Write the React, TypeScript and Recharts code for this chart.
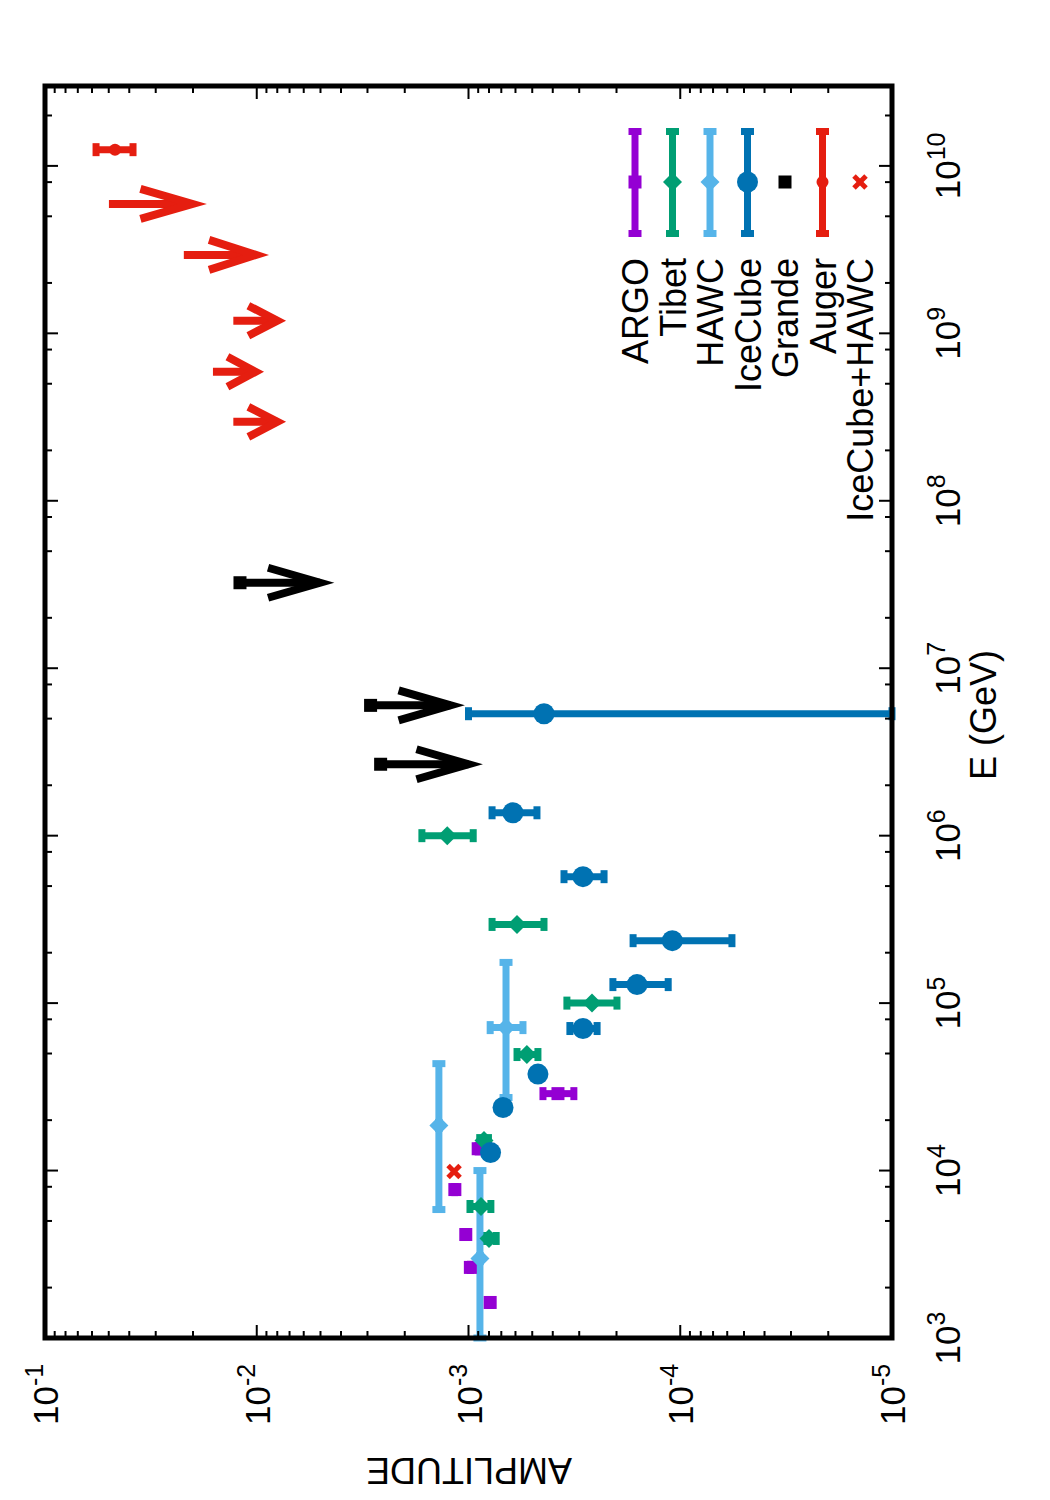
import React from "react";
import { ScatterChart, Scatter, XAxis, YAxis, ErrorBar, ReferenceArea, ReferenceLine, Legend } from "recharts";

// ---- measurements: energy E (GeV) and dipole amplitude, bar ends where drawn ----
const ARGO_E = [1.63e3, 2.64e3, 4.15e3, 7.7e3, 1.35e4, 2.88e4];
const ARGO_AMP = [7.9e-4, 9.8e-4, 1.03e-3, 1.16e-3, 9.0e-4, 3.78e-4];
const ARGO_AMP_LO = [null, null, null, null, null, 3.18e-4];
const ARGO_AMP_HI = [null, null, null, null, null, 4.45e-4];

const TIBET_E = [3.93e3, 6.1e3, 1.51e4, 4.93e4, 1.0e5, 2.95e5, 1.0e6];
const TIBET_AMP = [8.0e-4, 8.73e-4, 8.45e-4, 5.3e-4, 2.61e-4, 5.9e-4, 1.26e-3];
const TIBET_AMP_LO = [7.4e-4, 7.84e-4, 8.05e-4, 4.7e-4, 1.99e-4, 4.4e-4, 9.5e-4];
const TIBET_AMP_HI = [8.55e-4, 9.84e-4, 8.85e-4, 5.9e-4, 3.43e-4, 7.74e-4, 1.66e-3];

const HAWC_E = [2.98e3, 1.86e4, 7.14e4];
const HAWC_AMP = [8.83e-4, 1.38e-3, 6.65e-4];
const HAWC_AMP_LO = [null, null, 5.53e-4];
const HAWC_AMP_HI = [null, null, 7.9e-4];
const HAWC_E_LO = [1.0e3, 5.85e3, 2.73e4];
const HAWC_E_HI = [1.0e4, 4.35e4, 1.75e5];

const ICECUBE_E = [1.28e4, 2.38e4, 3.77e4, 7.05e4, 1.29e5, 2.36e5, 5.69e5, 1.37e6, 5.35e6];
const ICECUBE_AMP = [7.87e-4, 6.87e-4, 4.7e-4, 2.88e-4, 1.6e-4, 1.09e-4, 2.88e-4, 6.17e-4, 4.4e-4];
const ICECUBE_AMP_LO = [null, null, null, 2.47e-4, 1.14e-4, 5.7e-5, 2.29e-4, 4.75e-4, 1.0e-5];
const ICECUBE_AMP_HI = [null, null, null, 3.32e-4, 2.08e-4, 1.67e-4, 3.54e-4, 7.74e-4, 1.0e-3];

// upper limits: value at the square, arrow runs down to *_TO
const GRANDE_E = [2.67e6, 6.0e6, 3.24e7];
const GRANDE_AMP = [2.6e-3, 2.9e-3, 1.2e-2];
const GRANDE_TO = [8.55e-4, 1.04e-3, 4.3e-3];

const AUGER_E = [1.25e10];
const AUGER_AMP = [4.67e-2];
const AUGER_AMP_LO = [3.84e-2];
const AUGER_AMP_HI = [5.74e-2];
const AUGER_LIM_E = [2.96e8, 5.89e8, 1.19e9, 2.94e9, 5.93e9];
const AUGER_LIM_AMP = [1.29e-2, 1.61e-2, 1.29e-2, 2.21e-2, 4.99e-2];
const AUGER_LIM_TO = [7.27e-3, 9.24e-3, 7.27e-3, 8.75e-3, 1.72e-2];

const ICHAWC_E = [9.86e3];
const ICHAWC_AMP = [1.17e-3];

const AMP_DECADES = [-5, -4, -3, -2];
const E_DECADES = [3, 4, 5, 6, 7, 8, 9, 10];
const E_MINOR = [1, 2, 5, 8];

const AMP_DOMAIN = [1e-5, 1e-1];
const E_DOMAIN = [1e3, 3e10];

// ---- layout ----
const W = 1050;
const H = 1500;
const MARGIN = { top: 86, right: 98, bottom: 102, left: 45 };
const X_AXIS_H = 60;
const Y_AXIS_W = 60;
const PLOT_L = MARGIN.left;
const PLOT_R = W - MARGIN.right - Y_AXIS_W;
const PLOT_T = MARGIN.top;
const PLOT_B = H - MARGIN.bottom - X_AXIS_H;
const FONT = "'Liberation Sans', Arial, Helvetica, sans-serif";

const COLORS = {
  argo: "#9400d3",
  tibet: "#009e73",
  hawc: "#56b4e9",
  icecube: "#0072b2",
  grande: "#000000",
  auger: "#e51e10",
};

const ampTicks: number[] = [];
AMP_DECADES.forEach((d) => {
  for (let m = 1; m <= 9; m++) ampTicks.push(m * Math.pow(10, d));
});
ampTicks.push(AMP_DOMAIN[1]);

const eTicks: number[] = [];
E_DECADES.forEach((d) => E_MINOR.forEach((m) => eTicks.push(m * Math.pow(10, d))));
const E_TICKS = eTicks.filter((v) => v <= E_DOMAIN[1]);

const isDecade = (v: number) => Math.abs(Math.log10(v) - Math.round(Math.log10(v))) < 1e-6;

const errPair = (v: number, lo: number | null, hi: number | null) => [lo == null ? 0 : v - lo, hi == null ? 0 : hi - v];

const rows = (es: number[], amps: number[], lo?: (number | null)[], hi?: (number | null)[]) =>
  es.map((E, i) => ({ E, A: amps[i], errA: errPair(amps[i], lo ? lo[i] : null, hi ? hi[i] : null) }));

const argoData = rows(ARGO_E, ARGO_AMP, ARGO_AMP_LO, ARGO_AMP_HI);
const tibetData = rows(TIBET_E, TIBET_AMP, TIBET_AMP_LO, TIBET_AMP_HI);
const hawcData = rows(HAWC_E, HAWC_AMP, HAWC_AMP_LO, HAWC_AMP_HI).map((r, i) => ({
  ...r,
  errE: [r.E - HAWC_E_LO[i], HAWC_E_HI[i] - r.E],
}));
const icecubeData = rows(ICECUBE_E, ICECUBE_AMP, ICECUBE_AMP_LO, ICECUBE_AMP_HI);
const grandeData = rows(GRANDE_E, GRANDE_AMP);
const augerData = rows(AUGER_E, AUGER_AMP, AUGER_AMP_LO, AUGER_AMP_HI);
const ichawcData = rows(ICHAWC_E, ICHAWC_AMP);

const arrows = [
  ...GRANDE_E.map((E, i) => ({ E, from: GRANDE_AMP[i], to: GRANDE_TO[i], color: COLORS.grande })),
  ...AUGER_LIM_E.map((E, i) => ({ E, from: AUGER_LIM_AMP[i], to: AUGER_LIM_TO[i], color: COLORS.auger })),
];

// ---- point symbols ----
type Kind = "square" | "diamond" | "circle" | "dot" | "cross";

const Marker = ({ kind, cx, cy, color }: { kind: Kind; cx: number; cy: number; color: string }) => {
  if (kind === "square") return <rect x={cx - 6.5} y={cy - 6.5} width={13} height={13} fill={color} />;
  if (kind === "diamond")
    return <polygon points={`${cx},${cy - 9.5} ${cx + 9.5},${cy} ${cx},${cy + 9.5} ${cx - 9.5},${cy}`} fill={color} />;
  if (kind === "circle") return <circle cx={cx} cy={cy} r={10.5} fill={color} />;
  if (kind === "dot") return <circle cx={cx} cy={cy} r={6} fill={color} />;
  return (
    <g stroke={color} strokeWidth={5}>
      <line x1={cx - 6} y1={cy - 6} x2={cx + 6} y2={cy + 6} />
      <line x1={cx - 6} y1={cy + 6} x2={cx + 6} y2={cy - 6} />
    </g>
  );
};

const shapeOf = (kind: Kind, color: string) => (p: any) => <Marker kind={kind} cx={p.cx} cy={p.cy} color={color} />;

// upper-limit arrow, drawn from the line ends that ReferenceLine hands over
const arrowShape = (color: string) => (p: any) => {
  const { x1, y1, x2, y2 } = p;
  const len = Math.hypot(x2 - x1, y2 - y1);
  if (!len) return <g />;
  const ux = (x2 - x1) / len;
  const uy = (y2 - y1) / len;
  const head = Math.min(52, 0.55 * len);
  const hw = 15;
  const sw = 8;
  const back = sw / 2 / Math.sin(Math.atan(hw / head));
  const tx = x2 - ux * back;
  const ty = y2 - uy * back;
  const bx = tx - ux * head;
  const by = ty - uy * head;
  return (
    <g>
      <line x1={x1} y1={y1} x2={tx} y2={ty} stroke={color} strokeWidth={sw} />
      <polyline
        points={`${bx - uy * hw},${by + ux * hw} ${tx},${ty} ${bx + uy * hw},${by - ux * hw}`}
        fill="none"
        stroke={color}
        strokeWidth={sw}
        strokeLinejoin="miter"
        strokeMiterlimit={10}
      />
    </g>
  );
};

const Sup = ({ exp }: { exp: number }) => (
  <tspan fontSize={25} dy={-15}>
    {exp}
  </tspan>
);

const AmpTick = (props: any) => {
  const { x, payload } = props;
  const v = payload.value;
  const major = isDecade(v);
  const len = major ? 13 : 7;
  const lx = x + 13;
  const ly = 1425;
  return (
    <g>
      <line x1={x} y1={PLOT_B} x2={x} y2={PLOT_B - len} stroke="#000" strokeWidth={2} />
      <line x1={x} y1={PLOT_T} x2={x} y2={PLOT_T + len} stroke="#000" strokeWidth={2} />
      {major && (
        <text x={lx} y={ly} transform={`rotate(-90 ${lx} ${ly})`} fontSize={35} fontFamily={FONT} fill="#000">
          10
          <Sup exp={Math.round(Math.log10(v))} />
        </text>
      )}
    </g>
  );
};

const EnergyTick = (props: any) => {
  const { y, payload } = props;
  const v = payload.value;
  const major = isDecade(v);
  const len = major ? 13 : 7;
  const lx = 960;
  return (
    <g>
      <line x1={PLOT_L} y1={y} x2={PLOT_L + len} y2={y} stroke="#000" strokeWidth={2} />
      <line x1={PLOT_R} y1={y} x2={PLOT_R - len} y2={y} stroke="#000" strokeWidth={2} />
      {major && (
        <text
          x={lx}
          y={y}
          transform={`rotate(-90 ${lx} ${y})`}
          textAnchor="middle"
          fontSize={35}
          fontFamily={FONT}
          fill="#000"
        >
          10
          <Sup exp={Math.round(Math.log10(v))} />
        </text>
      )}
    </g>
  );
};

// ---- key ----
const KEY: { name: string; color: string; kind: Kind; bar: boolean }[] = [
  { name: "ARGO", color: COLORS.argo, kind: "square", bar: true },
  { name: "Tibet", color: COLORS.tibet, kind: "diamond", bar: true },
  { name: "HAWC", color: COLORS.hawc, kind: "diamond", bar: true },
  { name: "IceCube", color: COLORS.icecube, kind: "circle", bar: true },
  { name: "Grande", color: COLORS.grande, kind: "square", bar: false },
  { name: "Auger", color: COLORS.auger, kind: "dot", bar: true },
  { name: "IceCube+HAWC", color: COLORS.auger, kind: "cross", bar: false },
];

const renderKey = () => (
  <svg width={300} height={450} style={{ overflow: "visible" }}>
    {KEY.map((k, i) => {
      const x = 35 + i * 37.5;
      return (
        <g key={k.name}>
          {k.bar && (
            <g stroke={k.color} strokeWidth={7}>
              <line x1={x} y1={28} x2={x} y2={137} />
              <line x1={x - 6.5} y1={31.5} x2={x + 6.5} y2={31.5} />
              <line x1={x - 6.5} y1={133.5} x2={x + 6.5} y2={133.5} />
            </g>
          )}
          <Marker kind={k.kind} cx={x} cy={82} color={k.color} />
          <text
            x={x + 13}
            y={158}
            transform={`rotate(-90 ${x + 13} 158)`}
            textAnchor="end"
            fontSize={36}
            fontFamily={FONT}
            fill="#000"
          >
            {k.name}
          </text>
        </g>
      );
    })}
  </svg>
);

const barProps = { width: 6.5, strokeWidth: 7 };

export default function App() {
  return (
    <div style={{ position: "absolute", left: 0, top: 0, background: "#fff" }}>
      <ScatterChart width={W} height={H} margin={MARGIN}>
        <XAxis
          dataKey="A"
          type="number"
          scale="log"
          domain={AMP_DOMAIN}
          allowDataOverflow
          reversed
          ticks={ampTicks}
          interval={0}
          tick={<AmpTick />}
          tickLine={false}
          axisLine={false}
          height={X_AXIS_H}
        />
        <YAxis
          dataKey="E"
          type="number"
          scale="log"
          domain={E_DOMAIN}
          allowDataOverflow
          orientation="right"
          ticks={E_TICKS}
          interval={0}
          tick={<EnergyTick />}
          tickLine={false}
          axisLine={false}
          width={Y_AXIS_W}
        />
        <Legend
          content={renderKey}
          layout="vertical"
          align="center"
          verticalAlign="middle"
          wrapperStyle={{ left: 600, top: 100, width: 300, height: 450 }}
        />

        <Scatter name="ARGO" data={argoData} shape={shapeOf("square", COLORS.argo)} isAnimationActive={false}>
          <ErrorBar dataKey="errA" direction="x" stroke={COLORS.argo} {...barProps} />
        </Scatter>
        <Scatter name="Tibet" data={tibetData} shape={shapeOf("diamond", COLORS.tibet)} isAnimationActive={false}>
          <ErrorBar dataKey="errA" direction="x" stroke={COLORS.tibet} {...barProps} />
        </Scatter>
        <Scatter name="HAWC" data={hawcData} shape={shapeOf("diamond", COLORS.hawc)} isAnimationActive={false}>
          <ErrorBar dataKey="errE" direction="y" stroke={COLORS.hawc} {...barProps} />
          <ErrorBar dataKey="errA" direction="x" stroke={COLORS.hawc} {...barProps} />
        </Scatter>
        <Scatter name="IceCube" data={icecubeData} shape={shapeOf("circle", COLORS.icecube)} isAnimationActive={false}>
          <ErrorBar dataKey="errA" direction="x" stroke={COLORS.icecube} {...barProps} />
        </Scatter>
        <Scatter name="Grande" data={grandeData} shape={shapeOf("square", COLORS.grande)} isAnimationActive={false} />
        <Scatter name="Auger" data={augerData} shape={shapeOf("dot", COLORS.auger)} isAnimationActive={false}>
          <ErrorBar dataKey="errA" direction="x" stroke={COLORS.auger} {...barProps} />
        </Scatter>
        <Scatter name="IceCube+HAWC" data={ichawcData} shape={shapeOf("cross", COLORS.auger)} isAnimationActive={false} />

        {arrows.map((a, i) => (
          <ReferenceLine
            key={`lim-${i}`}
            segment={[
              { x: a.from, y: a.E },
              { x: a.to, y: a.E },
            ]}
            shape={arrowShape(a.color)}
          />
        ))}

        <ReferenceArea
          x1={AMP_DOMAIN[1]}
          x2={AMP_DOMAIN[0]}
          y1={E_DOMAIN[0]}
          y2={E_DOMAIN[1]}
          fill="none"
          stroke="#000"
          strokeWidth={5}
          zIndex={700}
        />

        <text
          x={469}
          y={1470}
          transform="rotate(180 469 1470)"
          textAnchor="middle"
          dominantBaseline="central"
          fontSize={36}
          fontFamily={FONT}
          fill="#000"
        >
          AMPLITUDE
        </text>
        <text
          x={996}
          y={715}
          transform="rotate(-90 996 715)"
          textAnchor="middle"
          fontSize={36}
          fontFamily={FONT}
          fill="#000"
        >
          E (GeV)
        </text>
      </ScatterChart>
    </div>
  );
}
